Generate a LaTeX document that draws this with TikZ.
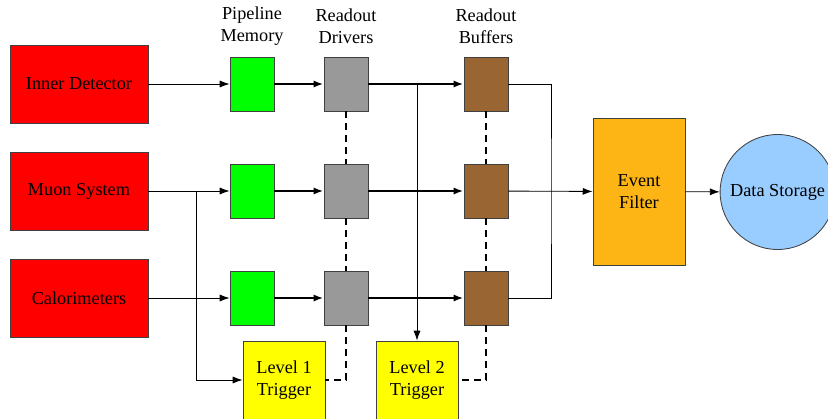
\documentclass[tikz,border=0pt]{standalone}
\usepackage{fontspec}
\setmainfont{Liberation Serif}
\usetikzlibrary{positioning}
\usetikzlibrary{arrows.meta}

\definecolor{detred}{RGB}{255,0,0}
\definecolor{memgreen}{RGB}{0,255,0}
\definecolor{drvgray}{RGB}{153,153,153}
\definecolor{bufbrown}{RGB}{153,102,51}
\definecolor{evorange}{RGB}{253,180,21}
\definecolor{storeblue}{RGB}{153,204,255}
\definecolor{trigyellow}{RGB}{255,255,0}

\begin{document}
\begin{tikzpicture}[x=1.0cm, y=1.0cm, >={Latex[length=7pt,width=5pt]},
  every box/.style={draw=black!75, line width=0.6pt, inner sep=0pt, align=center,
    font=\fontsize{13}{15.5}\selectfont},
  detector/.style={every box, fill=detred, minimum width=3.45cm, minimum height=1.95cm},
  memory/.style={every box, fill=memgreen, minimum width=1.1cm, minimum height=1.35cm},
  driver/.style={every box, fill=drvgray, minimum width=1.1cm, minimum height=1.35cm},
  buffer/.style={every box, fill=bufbrown, minimum width=1.1cm, minimum height=1.35cm},
  filter/.style={every box, fill=evorange, minimum width=2.3cm, minimum height=3.675cm},
  storage/.style={every box, circle, fill=storeblue, minimum size=2.875cm},
  trigger/.style={every box, fill=trigyellow, minimum width=2.05cm, minimum height=1.95cm},
  heading/.style={align=center, inner sep=0pt, font=\fontsize{13}{15.5}\selectfont},
  thin line/.style={line width=0.6pt},
  thick line/.style={line width=1.4pt},
  link/.style={line width=1.3pt, dash pattern=on 5pt off 3.5pt}]

\useasboundingbox (0,0) rectangle (20.7,-10.45);

\foreach \name [count=\y] in {Inner Detector,Muon System,Calorimeters}
  \node [detector] (detector-\y) at (1.975,0.575-2.675*\y) {\name};

\foreach \y in {1,2,3} {
  \node [memory] (memory-\y) at (6.3,0.575-2.675*\y) {};
  \node [driver] (driver-\y) at (8.65,0.575-2.675*\y) {};
  \node [buffer] (buffer-\y) at (12.15,0.575-2.675*\y) {};
}

\node [heading] (memory-label) at (6.3,-0.65) {Pipeline\\Memory};
\node [heading] (driver-label) at (8.65,-0.65) {Readout\\Drivers};
\node [heading] (buffer-label) at (12.15,-0.65) {Readout\\Buffers};

\node [filter] (filter) at (15.975,-4.79) {Event\\Filter};
\node [storage] (storage) at (19.44,-4.8) {Data Storage};

\node [trigger] (trigger-1) at (7.1,-9.5) {Level 1\\Trigger};
\node [trigger] (trigger-2) at (10.425,-9.5) {Level 2\\Trigger};

\coordinate (split) at (4.9,-4.775);
\coordinate (merge) at (13.775,-4.775);

\foreach \y in {1,2,3} {
  \draw [->, thin line] (detector-\y) -- (memory-\y);
  \draw [->, thick line] (memory-\y) -- (driver-\y);
  \draw [->, thick line] (driver-\y) -- (buffer-\y);
}

% trigger feeds
\draw [->, thin line] (split) |- (trigger-1.west);
\draw [->, thin line] (trigger-2.north |- driver-1.east) -- (trigger-2.north);

% trigger control
\draw [link] (driver-1) -- (driver-2);
\draw [link] (driver-2) -- (driver-3);
\draw [link] (driver-3.south) |- (trigger-1.east);
\draw [link] (buffer-1) -- (buffer-2);
\draw [link] (buffer-2) -- (buffer-3);
\draw [link] (buffer-3.south) |- (trigger-2.east);

% event building
\draw [thin line] (buffer-1.east) -| (merge) |- (buffer-3.east);
\draw [->, thin line] (buffer-2) -- (filter);
\draw [->, thin line] (filter) -- (storage);

\end{tikzpicture}
\end{document}
